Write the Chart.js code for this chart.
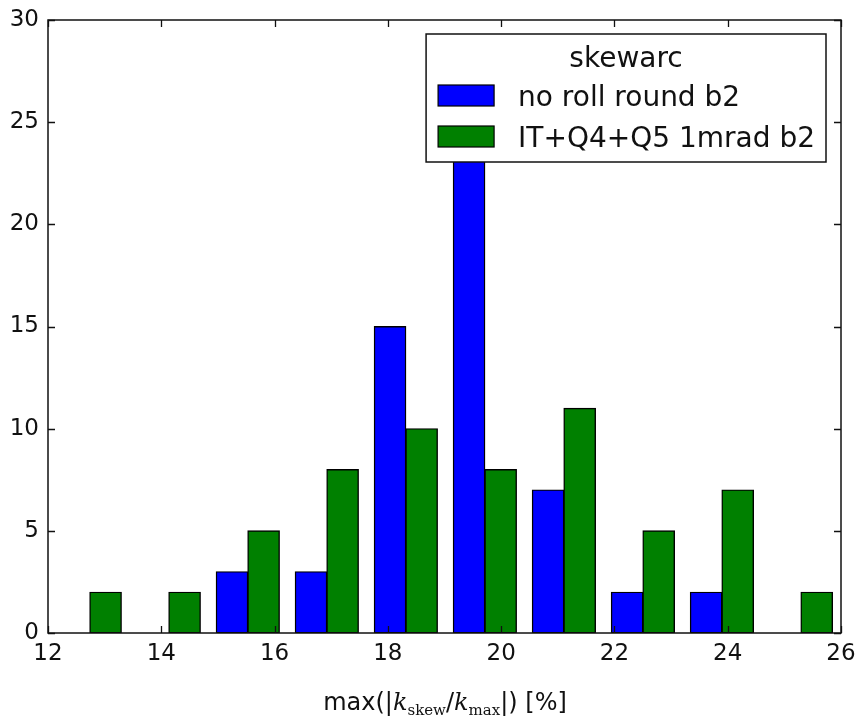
<!DOCTYPE html>
<html>
<head>
<meta charset="utf-8">
<script src="https://cdn.jsdelivr.net/npm/chart.js@4.4.1/dist/chart.umd.min.js"></script>
<style>
  html, body { margin: 0; padding: 0; background: #fff; overflow: hidden; }
  #wrap { position: relative; width: 856px; height: 720px; overflow: hidden; }
  #xtitle {
    position: absolute; left: 0; width: 890px; top: 688px; text-align: center; line-height: 28px;
    font-family: "DejaVu Sans", sans-serif; font-size: 24px; color: #111; white-space: nowrap;
  }
  #xtitle i { font-family: "DejaVu Serif", "Liberation Serif", serif; font-style: italic; }
  #xtitle sub { font-family: "DejaVu Serif", "Liberation Serif", serif; font-size: 15px; vertical-align: -5px; line-height: 0; }
</style>
</head>
<body>
<div id="wrap">
  <canvas id="c" width="856" height="720"></canvas>
  <div id="xtitle">max(|<i>k</i><sub>skew</sub>/<i>k</i><sub>max</sub>|) [%]</div>
</div>
<script>
// Histogram bin centers (bin width ~1.395, from ~12.04 to ~26.0)
const binCenters = [12.7375, 14.1325, 15.5275, 16.9225, 18.3175, 19.7125, 21.1075, 22.5025, 23.8975, 25.2925];
const noRollRound = [0, 0, 3, 3, 15, 28, 7, 2, 2, 0];
const itQ4Q5 = [2, 2, 5, 8, 10, 8, 11, 5, 7, 2];
const seriesLabels = ["no roll round b2", "IT+Q4+Q5 1mrad b2"];
const legendTitle = "skewarc";
const xTicks = [12, 14, 16, 18, 20, 22, 24, 26];
const yTicks = [0, 5, 10, 15, 20, 25, 30];

const FONT = '"DejaVu Sans", sans-serif';

const frameTicks = {
  id: 'frameTicks',
  afterDatasetsDraw(chart) {
    const ctx = chart.ctx, a = chart.chartArea;
    const xs = chart.scales.x, ys = chart.scales.y;
    ctx.save();
    ctx.strokeStyle = '#111';
    ctx.lineWidth = 1.3;
    ctx.beginPath();
    xTicks.forEach(v => {
      const px = Math.round(xs.getPixelForValue(v)) + 0.5;
      ctx.moveTo(px, a.bottom); ctx.lineTo(px, a.bottom - 7);
      ctx.moveTo(px, a.top); ctx.lineTo(px, a.top + 7);
    });
    yTicks.forEach(v => {
      const py = Math.round(ys.getPixelForValue(v)) + 0.5;
      ctx.moveTo(a.left, py); ctx.lineTo(a.left + 7, py);
      ctx.moveTo(a.right, py); ctx.lineTo(a.right - 7, py);
    });
    ctx.stroke();
    ctx.lineWidth = 1.5;
    ctx.strokeRect(a.left, a.top, a.right - a.left, a.bottom - a.top);
    ctx.restore();
  }
};

const boxLegend = {
  id: 'boxLegend',
  afterDraw(chart) {
    const ctx = chart.ctx, a = chart.chartArea;
    ctx.save();
    ctx.font = '28px ' + FONT;
    const tw = Math.max(...seriesLabels.map(s => ctx.measureText(s).width));
    const handleW = 56, handleH = 21, padL = 12, gap = 24, padR = 11;
    const w = padL + handleW + gap + tw + padR;
    const h = 128;
    const right = a.right - 15, top = a.top + 14;
    const left = right - w;
    ctx.fillStyle = '#fff';
    ctx.fillRect(left, top, w, h);
    ctx.strokeStyle = '#111';
    ctx.lineWidth = 1.5;
    ctx.strokeRect(left, top, w, h);
    ctx.fillStyle = '#111';
    ctx.textBaseline = 'alphabetic';
    ctx.textAlign = 'center';
    ctx.fillText(legendTitle, left + w / 2, top + 33);
    ctx.textAlign = 'left';
    chart.data.datasets.forEach((ds, i) => {
      const base = top + 72 + i * 41;
      ctx.fillStyle = ds.backgroundColor;
      ctx.fillRect(left + padL, base - handleH, handleW, handleH);
      ctx.strokeStyle = '#000';
      ctx.lineWidth = 1.2;
      ctx.strokeRect(left + padL, base - handleH, handleW, handleH);
      ctx.fillStyle = '#111';
      ctx.fillText(ds.label, left + padL + handleW + gap, base);
    });
    ctx.restore();
  }
};

function noPad(s) { s.paddingLeft = 0; s.paddingRight = 0; s.paddingTop = 0; s.paddingBottom = 0; }

new Chart(document.getElementById('c'), {
  type: 'bar',
  data: {
    datasets: [
      { label: seriesLabels[0], data: binCenters.map((x, i) => ({ x, y: noRollRound[i] })),
        backgroundColor: '#0000ff', borderColor: '#000', borderWidth: 1.4, borderSkipped: false, inflateAmount: 0.5 },
      { label: seriesLabels[1], data: binCenters.map((x, i) => ({ x, y: itQ4Q5[i] })),
        backgroundColor: '#008000', borderColor: '#000', borderWidth: 1.4, borderSkipped: false, inflateAmount: 0.5 }
    ]
  },
  options: {
    responsive: false,
    animation: false,
    events: [],
    categoryPercentage: 0.8,
    barPercentage: 1.0,
    layout: { padding: { left: 0, top: 20, right: 15, bottom: 0 } },
    plugins: { legend: { display: false }, tooltip: { enabled: false }, title: { display: false } },
    scales: {
      x: {
        type: 'linear', min: 12, max: 26, offset: false,
        afterBuildTicks: s => { s.ticks = xTicks.map(v => ({ value: v })); },
        afterFit: s => { s.height = 87; noPad(s); },
        grid: { display: false, drawTicks: false },
        border: { display: false },
        ticks: { color: '#111', font: { family: FONT, size: 23 }, padding: 7, maxRotation: 0, autoSkip: false }
      },
      y: {
        type: 'linear', min: 0, max: 30,
        afterBuildTicks: s => { s.ticks = yTicks.map(v => ({ value: v })); },
        afterFit: s => { s.width = 48; noPad(s); },
        grid: { display: false, drawTicks: false },
        border: { display: false },
        ticks: { color: '#111', font: { family: FONT, size: 23 }, padding: 9 }
      }
    }
  },
  plugins: [frameTicks, boxLegend]
});
</script>
</body>
</html>
